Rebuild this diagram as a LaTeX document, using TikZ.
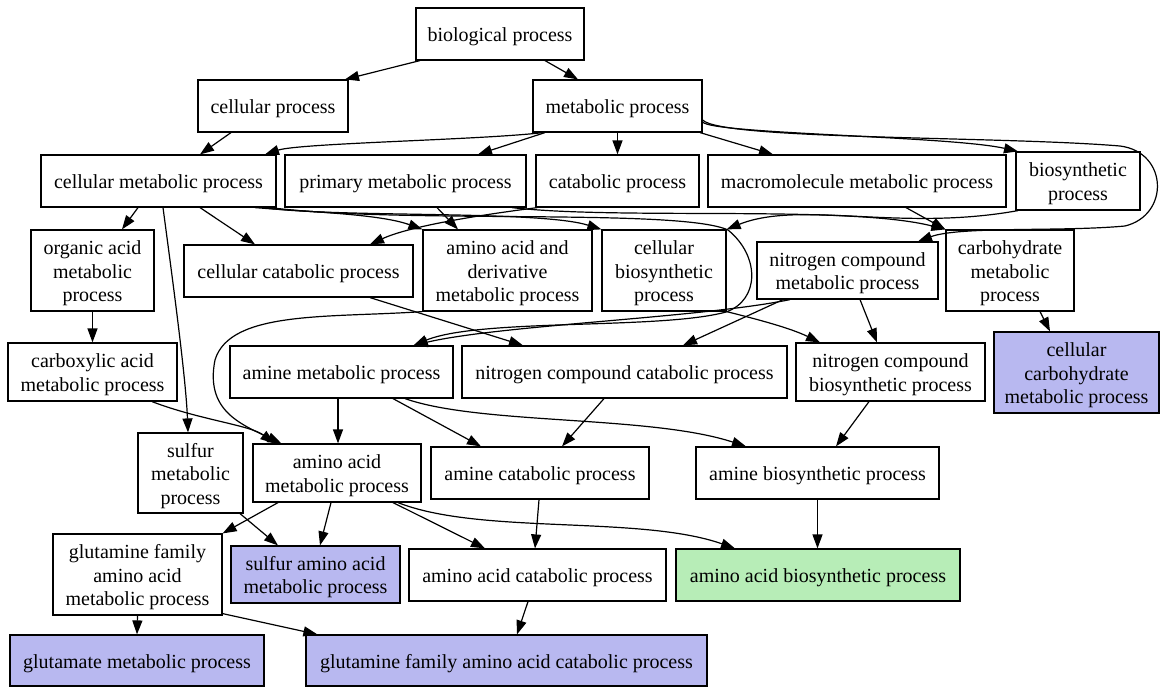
\documentclass[tikz,border=0pt]{standalone}
\usepackage{fontspec}
\setmainfont{Liberation Serif}
\usetikzlibrary{arrows.meta}
\definecolor{goblue}{RGB}{184,184,240}
\definecolor{gogreen}{RGB}{183,237,183}
\newcommand\myup{\rule{0pt}{19.5pt}}
\begin{document}
\begin{tikzpicture}[x=1pt,y=-1pt,
  box/.style={draw=black,line width=1.2pt,align=center,inner sep=0pt,
    font=\fontsize{20}{23.5}\selectfont,fill=white},
  bluebox/.style={box,fill=goblue},
  greenbox/.style={box,fill=gogreen},
  edge/.style={line width=1.2pt,-{Triangle[length=14pt,width=10pt]}}]
\useasboundingbox (0,0) rectangle (1161,688);
% row 1
\node[box,minimum width=168pt,minimum height=52pt] (bio) at (500,34) {\myup biological process};
% row 2
\node[box,minimum width=150pt,minimum height=52pt] (cellp) at (273,106) {\myup cellular process};
\node[box,minimum width=169pt,minimum height=52pt] (metab) at (617.5,106) {\myup metabolic process};
% row 3
\node[box,minimum width=235pt,minimum height=52pt] (cellmet) at (158.5,181) {\myup cellular metabolic process};
\node[box,minimum width=241pt,minimum height=52pt] (primary) at (405.5,181) {\myup primary metabolic process};
\node[box,minimum width=163pt,minimum height=52pt] (catab) at (617.5,181) {\myup catabolic process};
\node[box,minimum width=298pt,minimum height=52pt] (macro) at (857,181) {\myup macromolecule metabolic process};
\node[box,minimum width=124pt,minimum height=58pt] (biosyn) at (1078,181) {\myup biosynthetic\\process};
% row 4
\node[box,minimum width=123pt,minimum height=81pt] (orgacid) at (92.5,270.5) {\myup organic acid\\metabolic\\process};
\node[box,minimum width=229pt,minimum height=52pt] (cellcat) at (298.5,271) {\myup cellular catabolic process};
\node[box,minimum width=169pt,minimum height=81pt] (aaderiv) at (507.5,270.5) {\myup amino acid and\\derivative\\metabolic process};
\node[box,minimum width=124pt,minimum height=81pt] (cellbiosyn) at (664,270.5) {\myup cellular\\biosynthetic\\process};
\node[box,minimum width=181pt,minimum height=57pt] (ncmet) at (847.5,270.5) {\myup nitrogen compound\\metabolic process};
\node[box,minimum width=128pt,minimum height=81pt] (carbo) at (1010,270.5) {\myup carbohydrate\\metabolic\\process};
% row 5
\node[box,minimum width=169pt,minimum height=58pt] (carbox) at (92.5,372) {\myup carboxylic acid\\metabolic process};
\node[box,minimum width=223pt,minimum height=52pt] (aminemet) at (341.5,372) {\myup amine metabolic process};
\node[box,minimum width=325pt,minimum height=52pt] (nccat) at (624.5,372) {\myup nitrogen compound catabolic process};
\node[box,minimum width=189pt,minimum height=58pt] (ncbiosyn) at (890.5,372) {\myup nitrogen compound\\biosynthetic process};
\node[bluebox,minimum width=165pt,minimum height=81pt] (cellcarbo) at (1076.5,372.5) {\myup cellular\\carbohydrate\\metabolic process};
% row 6
\node[box,minimum width=105pt,minimum height=80pt] (sulfurmet) at (190.5,473) {\myup sulfur\\metabolic\\process};
\node[box,minimum width=168pt,minimum height=58pt] (aamet) at (337,473) {\myup amino acid\\metabolic process};
\node[box,minimum width=218pt,minimum height=52pt] (aminecat) at (540,473) {\myup amine catabolic process};
\node[box,minimum width=243pt,minimum height=52pt] (aminebiosyn) at (817.5,473) {\myup amine biosynthetic process};
% row 7
\node[box,minimum width=169pt,minimum height=81pt] (glufam) at (137.5,574.5) {\myup glutamine family\\amino acid\\metabolic process};
\node[bluebox,minimum width=169pt,minimum height=57pt] (sulfaa) at (315.5,574.5) {\myup sulfur amino acid\\metabolic process};
\node[box,minimum width=257pt,minimum height=52pt] (aacat) at (537.5,575) {\myup amino acid catabolic process};
\node[greenbox,minimum width=284pt,minimum height=52pt] (aabiosyn) at (818,575) {\myup amino acid biosynthetic process};
% row 8
\node[bluebox,minimum width=254pt,minimum height=51pt] (glutamate) at (137,660.5) {\myup glutamate metabolic process};
\node[bluebox,minimum width=401pt,minimum height=51pt] (glufamcat) at (506.5,660.5) {\myup glutamine family amino acid catabolic process};

% edges
\draw[edge] ([xshift=-80pt]bio.south) -- ([xshift=72pt]cellp.north);
\draw[edge] ([xshift=45pt]bio.south) -- ([xshift=-39.5pt]metab.north);
\draw[edge] ([xshift=-42pt]cellp.south) -- ([xshift=41.5pt]cellmet.north);
\draw[edge] ([xshift=-74.5pt]metab.south) .. controls (480,140) and (300,143) .. ([xshift=106.5pt]cellmet.north);
\draw[edge] ([xshift=-72.5pt]metab.south) -- ([xshift=72.5pt]primary.north);
\draw[edge] (metab.south) -- (catab.north);
\draw[edge] ([xshift=82.5pt]metab.south) -- ([xshift=-84pt]macro.north);
\draw[edge] ([yshift=-16pt]metab.east) .. controls (712,134) and (950,136) .. ([xshift=-60pt]biosyn.north);
\draw[edge] ([yshift=-14pt]metab.east) .. controls (722,140) and (1000,136) .. (1120,146)
  .. controls (1168,152) and (1170,215) .. (1125,226)
  .. controls (1060,232) and (960,226) .. ([xshift=70.5pt]ncmet.north);
\draw[edge] ([xshift=-20.5pt]cellmet.south) -- ([xshift=29.5pt]orgacid.north);
\draw[edge] ([xshift=4.5pt]cellmet.south) .. controls (174,290) and (186,380) .. ([xshift=-2.5pt]sulfurmet.north);
\draw[edge] ([xshift=41.5pt]cellmet.south) -- ([xshift=-43.5pt]cellcat.north);
\draw[edge] ([xshift=96.5pt]cellmet.south) .. controls (310,212) and (380,214) .. (aaderiv.north west);
\draw[edge] ([xshift=103.5pt]cellmet.south) .. controls (340,218) and (540,210) .. (cellbiosyn.north west);
\draw[edge] ([xshift=111.5pt]cellmet.south) .. controls (400,224) and (680,208) .. (728,230)
  .. controls (760,256) and (760,300) .. (726,312)
  .. controls (660,330) and (480,318) .. ([xshift=72pt]aminemet.north);
\draw[edge] ([xshift=31.5pt]primary.south) -- ([xshift=-49.5pt]aaderiv.north);
\draw[edge] ([xshift=106.5pt]primary.south) .. controls (620,220) and (850,205) .. (carbo.north west);
\draw[edge] ([xshift=2pt]catab.south west) .. controls (480,215) and (410,226) .. ([xshift=71.5pt]cellcat.north);
\draw[edge] ([xshift=49pt]macro.south) -- (carbo.north west);
\draw[edge] ([xshift=-60pt]biosyn.south) .. controls (900,232) and (800,200) .. (cellbiosyn.north east);
\draw[edge] (orgacid.south) -- (carbox.north);
\draw[edge] ([xshift=59.5pt]carbox.south) .. controls (200,420) and (250,425) .. ([xshift=22pt]aamet.north west);
\draw[edge] (aaderiv.south west) .. controls (330,318) and (230,310) .. (215,360)
  .. controls (205,410) and (240,424) .. ([xshift=29pt]aamet.north west);
\draw[edge] ([xshift=71.5pt]cellcat.south) -- ([xshift=-101.5pt]nccat.north);
\draw[edge] ([xshift=-57.5pt]ncmet.south) .. controls (700,318) and (500,325) .. ([xshift=72pt]aminemet.north);
\draw[edge] ([xshift=-64.5pt]ncmet.south) -- ([xshift=58.5pt]nccat.north);
\draw[edge] ([xshift=12.5pt]ncmet.south) -- ([xshift=-13.5pt]ncbiosyn.north);
\draw[edge] (cellbiosyn.south east) .. controls (760,320) and (790,328) .. ([xshift=-70.5pt]ncbiosyn.north);
\draw[edge] ([xshift=30pt]carbo.south) -- ([xshift=-26.5pt]cellcarbo.north);
\draw[edge] ([xshift=-3.5pt]aminemet.south) -- ([xshift=1pt]aamet.north);
\draw[edge] ([xshift=51.5pt]aminemet.south) -- ([xshift=-59pt]aminecat.north);
\draw[edge] ([xshift=63.5pt]aminemet.south) .. controls (480,425) and (650,415) .. ([xshift=-71.5pt]aminebiosyn.north);
\draw[edge] ([xshift=-20.5pt]nccat.south) -- ([xshift=22pt]aminecat.north);
\draw[edge] ([xshift=-21.5pt]ncbiosyn.south) -- ([xshift=18.5pt]aminebiosyn.north);
\draw[edge] ([xshift=49.5pt]sulfurmet.south) -- ([xshift=-37.5pt]sulfaa.north);
\draw[edge] ([xshift=-59pt]aamet.south) -- (glufam.north east);
\draw[edge] ([xshift=-6pt]aamet.south) -- ([xshift=4.5pt]sulfaa.north);
\draw[edge] ([xshift=56pt]aamet.south) -- ([xshift=-52.5pt]aacat.north);
\draw[edge] ([xshift=61pt]aamet.south) .. controls (480,535) and (640,515) .. ([xshift=-83pt]aabiosyn.north);
\draw[edge] ([xshift=-1pt]aminecat.south) -- ([xshift=-2.5pt]aacat.north);
\draw[edge] (aminebiosyn.south) -- ([xshift=-0.5pt]aabiosyn.north);
\draw[edge] (glufam.south) -- (glutamate.north);
\draw[edge] ([yshift=2pt]glufam.south east) -- ([xshift=12pt]glufamcat.north west);
\draw[edge] ([xshift=-9.5pt]aacat.south) -- ([xshift=10.5pt]glufamcat.north);
\end{tikzpicture}
\end{document}
